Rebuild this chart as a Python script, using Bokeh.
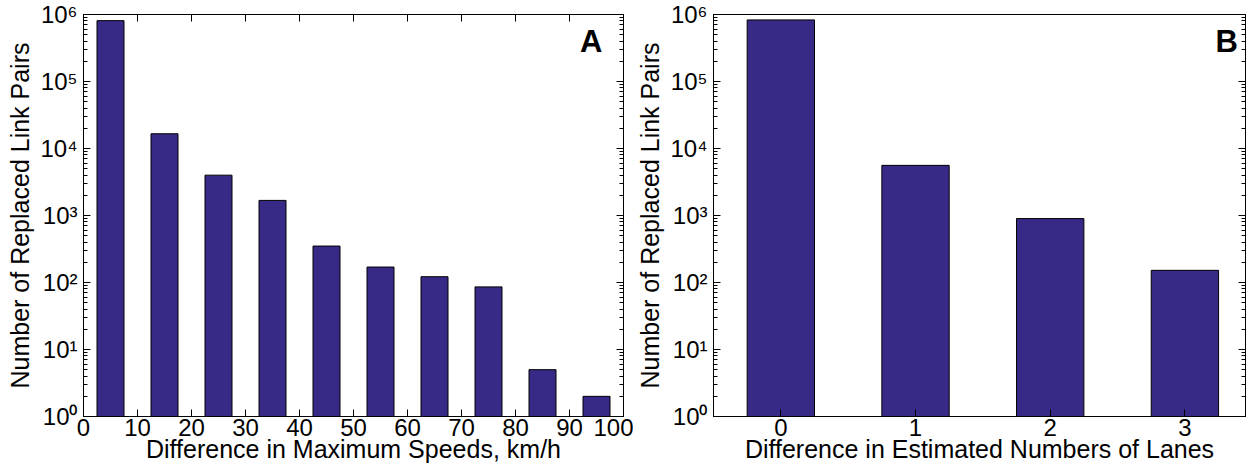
from bokeh.plotting import figure
from bokeh.layouts import row
from bokeh.models import LogAxis, LinearAxis, Label, FixedTicker, LogTicker, Range1d, CustomJSTickFormatter
from bokeh.embed import file_html
from bokeh.resources import INLINE

# Panel A data
speed_diff = [5, 15, 25, 35, 45, 55, 65, 75, 85, 95]
speed_counts = [810000, 16600, 4000, 1680, 350, 170, 122, 86, 5, 2]
speed_ticks = [0, 10, 20, 30, 40, 50, 60, 70, 80, 90, 100]

# Panel B data
lane_diff = [0, 1, 2, 3]
lane_counts = [830000, 5600, 900, 152]

y_labels = {1: "10⁰", 10: "10¹", 100: "10²", 1000: "10³", 10000: "10⁴", 100000: "10⁵", 1000000: "10⁶"}

FONT = "Liberation Sans"
BAR = "#372a86"


def style(p, xticks):
    for ax in p.xaxis + p.yaxis:
        ax.major_tick_in = 7
        ax.major_tick_out = 0
        ax.minor_tick_in = 4
        ax.minor_tick_out = 0
        ax.axis_line_color = "black"
        ax.major_tick_line_color = "black"
        ax.minor_tick_line_color = "black"
        ax.major_label_text_font = FONT
        ax.major_label_text_font_size = "24px"
        ax.major_label_text_color = "black"
        ax.axis_label_text_font = FONT
        ax.axis_label_text_font_size = "25px"
        ax.axis_label_text_font_style = "normal"
        ax.axis_label_text_color = "black"
    p.xaxis.ticker = FixedTicker(ticks=xticks)
    p.yaxis.ticker = LogTicker(num_minor_ticks=10)
    p.xaxis.major_label_standoff = 2
    p.yaxis.major_label_standoff = 6
    p.xaxis.axis_label_standoff = -4
    p.yaxis.axis_label_standoff = 3
    p.yaxis.major_label_overrides = y_labels
    p.xaxis.minor_tick_line_color = None
    p.grid.visible = False
    p.outline_line_color = "black"

    blank = CustomJSTickFormatter(code="return '';")
    right = LogAxis(ticker=LogTicker(num_minor_ticks=10), major_tick_in=7, major_tick_out=0,
                    minor_tick_in=4, minor_tick_out=0, formatter=blank,
                    major_label_standoff=0)
    p.add_layout(right, "right")
    top = LinearAxis(ticker=FixedTicker(ticks=xticks), major_tick_in=7, major_tick_out=0,
                     minor_tick_line_color=None, formatter=blank,
                     major_label_standoff=0)
    p.add_layout(top, "above")


pA = figure(width=633, height=467, y_axis_type="log",
            x_range=Range1d(0, 100), y_range=Range1d(1, 1e6),
            output_backend="svg", toolbar_location=None,
            min_border_left=83, min_border_right=10, min_border_top=14, min_border_bottom=51,
            x_axis_label="Difference in Maximum Speeds, km/h",
            y_axis_label="Number of Replaced Link Pairs")
pA.vbar(x=speed_diff, top=speed_counts, bottom=1, width=5,
        fill_color=BAR, line_color="black", line_width=1)
style(pA, speed_ticks)
pA.add_layout(Label(x=94, y=10 ** 5.6, text="A", text_font=FONT, text_font_size="31px",
                    text_color="black", text_font_style="bold",
                    text_align="center", text_baseline="middle"))

pB = figure(width=615, height=467, y_axis_type="log",
            x_range=Range1d(-0.5, 3.45), y_range=Range1d(1, 1e6),
            output_backend="svg", toolbar_location=None,
            min_border_left=78, min_border_right=3, min_border_top=14, min_border_bottom=51,
            x_axis_label="Difference in Estimated Numbers of Lanes",
            y_axis_label="Number of Replaced Link Pairs")
pB.vbar(x=lane_diff, top=lane_counts, bottom=1, width=0.5,
        fill_color=BAR, line_color="black", line_width=1)
style(pB, lane_diff)
pB.xaxis[0].major_tick_line_color = None
pB.add_layout(Label(x=3.31, y=10 ** 5.6, text="B", text_font=FONT, text_font_size="31px",
                    text_color="black", text_font_style="bold",
                    text_align="center", text_baseline="middle"))

layout = row(pA, pB)
open("out.html", "w").write(file_html(layout, INLINE))
